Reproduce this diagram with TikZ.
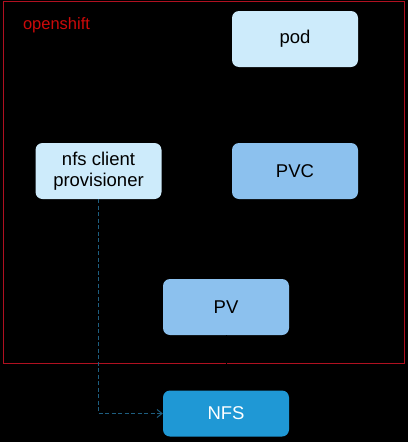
\documentclass[tikz,border=0pt]{standalone}
\usepackage{fontspec}
\setmainfont{Liberation Sans}
\usetikzlibrary{arrows.meta}
\definecolor{lightbox}{HTML}{CDEBFB}
\definecolor{midbox}{HTML}{8CC1EE}
\definecolor{darkbox}{HTML}{1F98D5}
\definecolor{frame}{HTML}{B01020}
\definecolor{label}{HTML}{CC0A0A}
\definecolor{dashc}{HTML}{1E5E80}
\begin{document}
\begin{tikzpicture}[x=1pt,y=-1pt,
  box/.style={rounded corners=7pt, minimum width=126pt, minimum height=56pt, inner sep=0pt, align=center, font=\fontsize{18.5}{21}\selectfont},
  lbox/.style={box, fill=lightbox},
  mbox/.style={box, fill=midbox},
  dbox/.style={box, fill=darkbox, text=white, minimum height=46pt}]
\fill[black] (0,0) rectangle (408,442);
\useasboundingbox (0,0) rectangle (408,442);
\draw[frame, line width=0.8pt] (3.5,1.5) rectangle (404,363);
\node[text=label, font=\fontsize{16.5}{18}\selectfont, anchor=center] (os) at (56.5,25) {openshift};
\node[lbox] (pod) at (295,39) {pod};
\node[lbox] (ncp) at (98.5,171) {nfs client\\provisioner};
\node[mbox] (pvc) at (295,171) {PVC};
\node[mbox] (pv) at (226,307) {PV};
\node[dbox] (nfs) at (226,413.5) {NFS};
\draw[black, line width=0.6pt] (pv.south) -- (nfs.north);
\draw[dashc, dash pattern=on 4pt off 2.5pt, line width=1pt, -{Straight Barb[length=5pt,width=8pt]}] (ncp.south) |- (nfs.west);
\end{tikzpicture}
\end{document}
